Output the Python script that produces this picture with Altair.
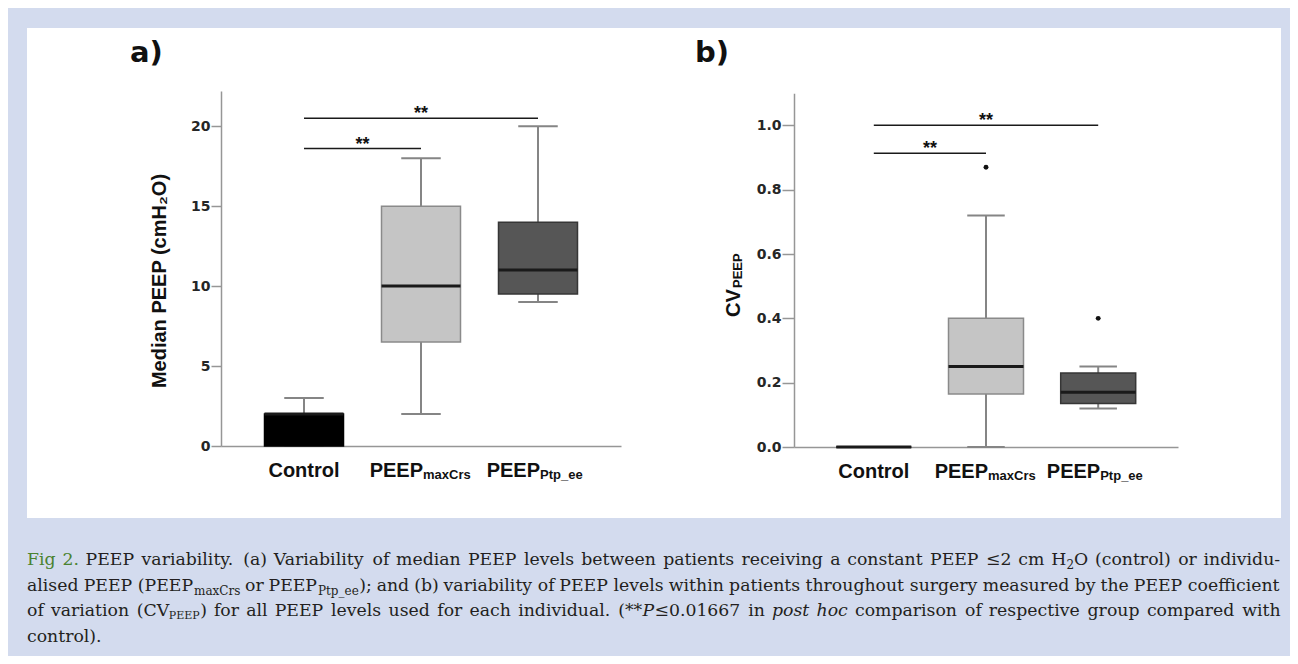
import re
import altair as alt
import pandas as pd

# ---------------- data ----------------
categories = ["Control", "PEEPmaxCrs", "PEEPPtp_ee"]
label_main = ["Control", "PEEP", "PEEP"]
label_sub = ["", "maxCrs", "Ptp_ee"]

# panel a: median PEEP (cmH2O) box-plot summaries
a_lo = [0, 2, 9]
a_q1 = [0, 6.5, 9.5]
a_med = [2, 10, 11]
a_q3 = [2, 15, 14]
a_hi = [3, 18, 20]
a_out_cat = []
a_out_val = []
a_ticks = [0, 5, 10, 15, 20]
a_sig_from = ["Control", "Control"]
a_sig_to = ["PEEPmaxCrs", "PEEPPtp_ee"]
a_sig_level = [18.6, 20.5]

# panel b: CV PEEP box-plot summaries
b_lo = [0, 0, 0.12]
b_q1 = [0, 0.165, 0.135]
b_med = [0, 0.25, 0.17]
b_q3 = [0, 0.40, 0.23]
b_hi = [0, 0.72, 0.25]
b_out_cat = ["PEEPmaxCrs", "PEEPPtp_ee"]
b_out_val = [0.87, 0.40]
b_ticks = [0.0, 0.2, 0.4, 0.6, 0.8, 1.0]
b_sig_from = ["Control", "Control"]
b_sig_to = ["PEEPmaxCrs", "PEEPPtp_ee"]
b_sig_level = [0.913, 1.0]
sig_text = "**"

# caption text runs (text, style) per line
caption_lines = [
    [("Fig 2.", "green"),
     (" PEEP variability. (a) Variability of median PEEP levels between patients receiving a constant PEEP \u22642 cm H", "normal"),
     ("2", "sub"),
     ("O (control) or individu-", "normal")],
    [("alised PEEP (PEEP", "normal"), ("maxCrs", "sub"), (" or PEEP", "normal"), ("Ptp_ee", "sub"),
     ("); and (b) variability of PEEP levels within patients throughout surgery measured by the PEEP coefficient", "normal")],
    [("of variation (CV", "normal"), ("PEEP", "subsm"),
     (") for all PEEP levels used for each individual. (**", "normal"), ("P", "italic"),
     ("\u22640.01667 in ", "normal"), ("post hoc", "italic"),
     (" comparison of respective group compared with", "normal")],
    [("control).", "normal")],
]

# ---------------- styles / layout ----------------
W, H = 1282, 648
SANS = "Liberation Sans"
SERIF = "DejaVu Serif"
AX = "#969696"
WHISK = "#858585"
BOX_FILL = ["#000000", "#c5c5c5", "#565656"]
BOX_STROKE = ["#000000", "#8a8a8a", "#363636"]
BG = "#d3dbee"

one = pd.DataFrame({"k": [0]})


def panel(lo, q1, med, q3, hi, out_cat, out_val, sig_from, sig_to, sig_level,
          ticks, fmt, y_max, x_px, y_px, box_w, tick_len, label_y, star_dy):
    n = len(categories)
    pad = 2 / 3
    xs = alt.Scale(domain=[-pad, n - 1 + pad], range=list(x_px), nice=False, zero=False)
    ys = alt.Scale(domain=[0, y_max], range=list(y_px), nice=False, zero=False)
    xaxis = alt.Axis(orient="bottom", offset=y_px[0] - H, labels=False, ticks=False,
                     grid=False, domainColor=AX, domainWidth=1.5, title=None)
    yaxis = alt.Axis(orient="left", offset=-x_px[0], values=ticks, format=fmt, grid=False,
                     tickSize=tick_len, tickWidth=1.5, tickColor=AX, domainColor=AX,
                     domainWidth=1.5, labelFont="DejaVu Sans", labelFontWeight="bold",
                     labelFontSize=14, labelColor="#262626", labelPadding=1, title=None)

    def X(f):
        return alt.X(f, type="quantitative", scale=xs, axis=xaxis)

    def Y(f):
        return alt.Y(f, type="quantitative", scale=ys, axis=yaxis)

    df = pd.DataFrame({
        "idx": list(range(n)), "cat": categories, "lo": lo, "q1": q1, "med": med,
        "q3": q3, "hi": hi, "fill": BOX_FILL, "stroke": BOX_STROKE,
        "main": label_main, "sub": label_sub,
    })
    base = alt.Chart(df)
    cap = box_w / 2
    whisk = base.mark_rule(color=WHISK, strokeWidth=2).encode(x=X("idx"), y=Y("lo"), y2="hi:Q")
    cap_lo = base.mark_rule(color=WHISK, strokeWidth=2, xOffset=-cap / 2, x2Offset=cap / 2).encode(
        x=X("idx"), x2="idx:Q", y=Y("lo"))
    cap_hi = base.mark_rule(color=WHISK, strokeWidth=2, xOffset=-cap / 2, x2Offset=cap / 2).encode(
        x=X("idx"), x2="idx:Q", y=Y("hi"))
    box = base.mark_bar(size=box_w, strokeWidth=1.5).encode(
        x=X("idx"), y=Y("q1"), y2="q3:Q",
        color=alt.Color("fill:N", scale=None), stroke=alt.Stroke("stroke:N", scale=None))
    median = base.mark_rule(color="#1a1a1a", strokeWidth=3, xOffset=-box_w / 2,
                            x2Offset=box_w / 2).encode(x=X("idx"), x2="idx:Q", y=Y("med"))
    lab_c = base.transform_filter("datum.sub == ''").mark_text(
        font=SANS, fontWeight="bold", fontSize=20, color="#111", align="center",
        baseline="alphabetic").encode(x=X("idx"), y=alt.value(label_y), text="main:N")
    lab_m = base.transform_filter("datum.sub != ''").mark_text(
        font=SANS, fontWeight="bold", fontSize=20, color="#111", align="right", dx=2,
        baseline="alphabetic").encode(x=X("idx"), y=alt.value(label_y), text="main:N")
    lab_s = base.transform_filter("datum.sub != ''").mark_text(
        font=SANS, fontWeight="bold", fontSize=13, color="#111", align="left", dx=2,
        baseline="alphabetic").encode(x=X("idx"), y=alt.value(label_y + 2), text="sub:N")

    sig = pd.DataFrame({
        "x1": [categories.index(c) for c in sig_from],
        "x2": [categories.index(c) for c in sig_to],
        "y": sig_level,
    })
    sig["mid"] = (sig["x1"] + sig["x2"]) / 2
    sig["t"] = sig_text
    sig_rule = alt.Chart(sig).mark_rule(color="#1a1a1a", strokeWidth=1.5).encode(
        x=X("x1"), x2="x2:Q", y=Y("y"))
    sig_star = alt.Chart(sig).mark_text(font=SANS, fontWeight="bold", fontSize=18, color="#111",
                                        baseline="alphabetic", dy=star_dy).encode(
        x=X("mid"), y=Y("y"), text="t:N")

    layers = [whisk, cap_lo, cap_hi, box, median, sig_rule, sig_star, lab_c, lab_m, lab_s]
    if out_cat:
        odf = pd.DataFrame({"idx": [categories.index(c) for c in out_cat], "val": out_val})
        layers.append(alt.Chart(odf).mark_circle(size=24, color="#111", opacity=1).encode(
            x=X("idx"), y=Y("val")))
    return alt.layer(*layers)


# view coords = page coords - 8px margin
pa = panel(a_lo, a_q1, a_med, a_q3, a_hi, a_out_cat, a_out_val, a_sig_from, a_sig_to,
           a_sig_level, a_ticks, "d", 22.2, (213, 613), (438, 83), 79, 10, 469, 1)
pb = panel(b_lo, b_q1, b_med, b_q3, b_hi, b_out_cat, b_out_val, b_sig_from, b_sig_to,
           b_sig_level, b_ticks, ".1f", 1.1, (786, 1170), (439, 85.2), 75, 12, 470, 1)


def txt(s, x, y, size, font=SANS, weight="bold", color="#111", align="left", angle=0,
        style="normal", baseline="alphabetic"):
    kw = dict(font=font, fontWeight=weight, fontSize=size, color=color, align=align,
              baseline=baseline, fontStyle=style)
    if angle:
        kw["angle"] = angle
    return alt.Chart(one).mark_text(**kw).encode(
        x=alt.value(x), y=alt.value(y), text=alt.value(s))


def blue(x0, x1, y0, y1):
    return alt.Chart(one).mark_rect(color=BG).encode(
        x=alt.value(x0), x2=alt.value(x1), y=alt.value(y0), y2=alt.value(y1))


# blue frame around the white figure panel (page 27..1281 x 28..518)
frame = [blue(0, 19, 0, H), blue(0, W, 0, 20), blue(1273, W, 0, H), blue(0, W, 510, H)]

titles = [
    txt("a)", 122, 54, 29, font="DejaVu Sans"),
    txt("b)", 687, 54, 29, font="DejaVu Sans"),
    txt("Median PEEP (cmH\u2082O)", 152, 273, 20, align="center", angle=270, baseline="middle"),
    txt("CV", 732, 309, 20, angle=270),
    txt("PEEP", 734, 280, 13, angle=270),
]

# ---- justified caption layout (DejaVu Serif advance widths, em units) ----
CW = {" ": .318, "a": .596, "b": .640, "c": .560, "d": .640, "e": .592, "f": .370, "g": .640,
      "h": .644, "i": .320, "j": .310, "k": .606, "l": .320, "m": .948, "n": .644, "o": .602,
      "p": .640, "q": .640, "r": .478, "s": .513, "t": .402, "u": .644, "v": .565, "w": .856,
      "x": .564, "y": .565, "z": .527, "A": .722, "B": .735, "C": .720, "D": .802, "E": .729,
      "F": .693, "G": .799, "H": .872, "I": .395, "O": .820, "P": .686, "V": .722,
      "(": .390, ")": .390, ".": .318, ",": .318, ";": .338, "-": .338, "_": .500, "*": .500,
      "\u2264": .838}
CAP_SIZE = 17.3
STY = {
    "normal": dict(size=CAP_SIZE, color="#231f20", style="normal", dy=0),
    "green": dict(size=CAP_SIZE, color="#4a8230", style="normal", dy=0),
    "italic": dict(size=CAP_SIZE, color="#231f20", style="italic", dy=0),
    "sub": dict(size=12, color="#231f20", style="normal", dy=4),
    "subsm": dict(size=11, color="#231f20", style="normal", dy=3),
}


def tw(s, st):
    return sum(CW.get(c, 0.636) for c in s) * STY[st]["size"] * 1.01


LINE_Y = [565, 590.5, 616, 641.5]
CAP_X0, CAP_X1 = 27, 1281
words = []
for li, runs in enumerate(caption_lines):
    pieces = []
    for text, st in runs:
        for tok in re.split(r"( )", text):
            if tok:
                pieces.append((tok, st))
    nat = sum(tw(t, s) for t, s in pieces)
    nsp = sum(1 for t, _ in pieces if t == " ")
    justify = li < len(caption_lines) - 1
    extra = (CAP_X1 - CAP_X0 - nat) / nsp if (justify and nsp) else 0
    x = CAP_X0
    for t, s in pieces:
        if t == " ":
            x += tw(t, s) + extra
        else:
            words.append({"x": x - 8, "y": LINE_Y[li] - 8 + STY[s]["dy"], "t": t, "st": s})
            x += tw(t, s)
wdf = pd.DataFrame(words)
cap_layers = []
for st, d in STY.items():
    sub = wdf[wdf["st"] == st]
    if len(sub) == 0:
        continue
    cap_layers.append(alt.Chart(sub).mark_text(
        font=SERIF, fontSize=d["size"], color=d["color"], fontStyle=d["style"],
        align="left", baseline="alphabetic").encode(
        x=alt.X("x:Q", scale=None, axis=None), y=alt.Y("y:Q", scale=None, axis=None),
        text="t:N"))

chart = alt.layer(*frame, pa, pb, *titles, *cap_layers).resolve_scale(
    x="independent", y="independent"
).properties(
    width=W, height=H, autosize=alt.AutoSizeParams(type="none"), padding=0
).configure(background="white").configure_view(stroke="transparent")

chart.save("out.html", embed_options={"renderer": "svg", "actions": False})
